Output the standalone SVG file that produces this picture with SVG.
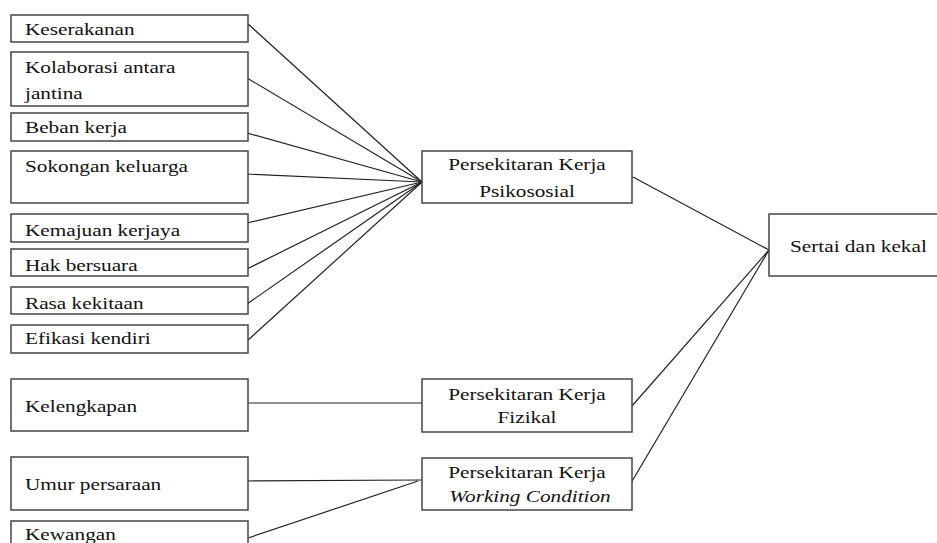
<svg xmlns="http://www.w3.org/2000/svg" width="937" height="543" viewBox="0 0 937 543">
<style>
.b{fill:#fff;stroke:#444;stroke-width:1.5}
.t{font-family:"Liberation Serif","Times New Roman",serif;font-size:17.7px;fill:#111}
.c{text-anchor:middle}
.l{stroke:#222;stroke-width:1.2;fill:none}
</style>
<rect width="937" height="543" fill="#fff"/>
<g id="connectors">
<line class="l" x1="247" y1="23" x2="422" y2="182"/>
<line class="l" x1="247" y1="78" x2="422" y2="182"/>
<line class="l" x1="247" y1="133" x2="422" y2="182"/>
<line class="l" x1="245" y1="174" x2="422" y2="182"/>
<line class="l" x1="247" y1="223" x2="422" y2="182"/>
<line class="l" x1="247" y1="269" x2="422" y2="182"/>
<line class="l" x1="247" y1="304" x2="422" y2="182"/>
<line class="l" x1="247" y1="341" x2="422" y2="182"/>
<line class="l" x1="633" y1="177" x2="769" y2="250"/>
<line class="l" x1="632" y1="406" x2="769" y2="250"/>
<line class="l" x1="628" y1="488" x2="769" y2="250"/>
<line class="l" x1="245" y1="403" x2="422" y2="403"/>
<line class="l" x1="247" y1="481" x2="422" y2="480"/>
<line class="l" x1="245" y1="539" x2="418" y2="481"/>
</g>
<g id="n1"><rect class="b" x="11" y="15" width="237" height="27"/><text class="t" transform="translate(25,34.5) scale(1.2,1)">Keserakanan</text></g>
<g id="n2"><rect class="b" x="11" y="52" width="237" height="54"/><text class="t" transform="translate(25,73) scale(1.2,1)">Kolaborasi antara</text><text class="t" transform="translate(25,99) scale(1.2,1)">jantina</text></g>
<g id="n3"><rect class="b" x="11" y="113" width="237" height="28"/><text class="t" transform="translate(25,133) scale(1.2,1)">Beban kerja</text></g>
<g id="n4"><rect class="b" x="11" y="151" width="237" height="52"/><text class="t" transform="translate(25,172) scale(1.2,1)">Sokongan keluarga</text></g>
<g id="n5"><rect class="b" x="11" y="214" width="237" height="28"/><text class="t" transform="translate(25,236) scale(1.2,1)">Kemajuan kerjaya</text></g>
<g id="n6"><rect class="b" x="11" y="249" width="237" height="27"/><text class="t" transform="translate(25,271) scale(1.2,1)">Hak bersuara</text></g>
<g id="n7"><rect class="b" x="11" y="287" width="237" height="27"/><text class="t" transform="translate(25,309) scale(1.2,1)">Rasa kekitaan</text></g>
<g id="n8"><rect class="b" x="11" y="325" width="237" height="28"/><text class="t" transform="translate(25,344) scale(1.2,1)">Efikasi kendiri</text></g>
<g id="n9"><rect class="b" x="11" y="379" width="237" height="52"/><text class="t" transform="translate(25,412) scale(1.2,1)">Kelengkapan</text></g>
<g id="n10"><rect class="b" x="11" y="457" width="237" height="53"/><text class="t" transform="translate(25,490) scale(1.2,1)">Umur persaraan</text></g>
<g id="n11"><rect class="b" x="11" y="521" width="237" height="40"/><text class="t" transform="translate(25,540) scale(1.2,1)">Kewangan</text></g>
<g id="psikososial"><rect class="b" x="422" y="151" width="210" height="52"/><text class="t c" transform="translate(527,170) scale(1.2,1)">Persekitaran Kerja</text><text class="t c" transform="translate(527,197) scale(1.2,1)">Psikososial</text></g>
<g id="fizikal"><rect class="b" x="422" y="379" width="210" height="53"/><text class="t c" transform="translate(527,400) scale(1.2,1)">Persekitaran Kerja</text><text class="t c" transform="translate(527,423) scale(1.2,1)">Fizikal</text></g>
<g id="working"><rect class="b" x="422" y="458" width="210" height="52"/><text class="t c" transform="translate(527,478) scale(1.2,1)">Persekitaran Kerja</text><text class="t c" font-style="italic" transform="translate(530,502) scale(1.2,1)">Working Condition</text></g>
<g id="sertai"><rect class="b" x="769" y="214" width="190" height="62"/><text class="t" transform="translate(790,252) scale(1.2,1)">Sertai dan kekal</text></g>
</svg>
